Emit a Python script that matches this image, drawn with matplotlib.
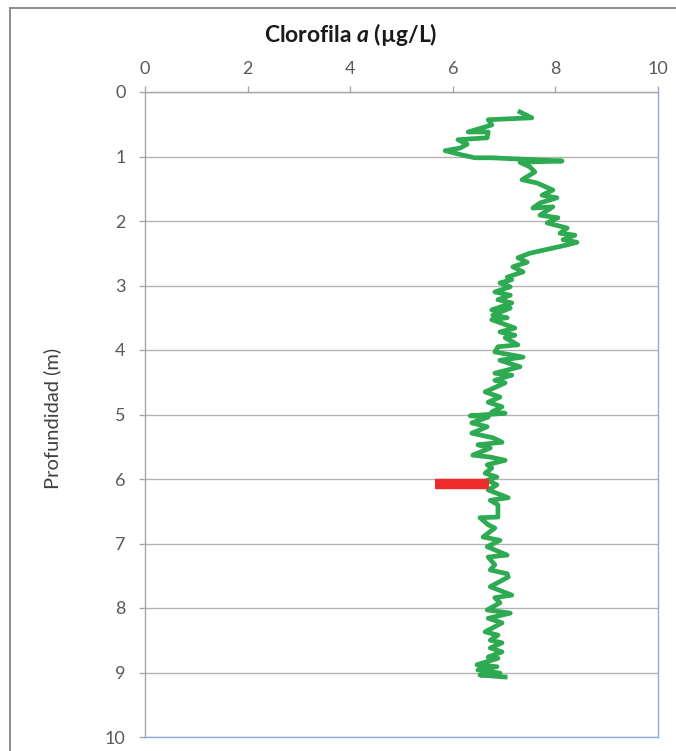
import matplotlib
matplotlib.use("Agg")
import matplotlib.pyplot as plt
from matplotlib.lines import Line2D

plt.rcParams['font.family'] = ['Lato', 'DejaVu Sans']
plt.rcParams['mathtext.fontset'] = 'custom'
plt.rcParams['mathtext.it'] = 'Lato:italic:bold'
plt.rcParams['mathtext.rm'] = 'Lato:bold'

# ---- data ----
depth = [0.31, 0.40, 0.43, 0.51, 0.62, 0.62, 0.71, 0.74, 0.81, 0.87, 0.91, 0.98,
         1.02, 1.02, 1.07, 1.09, 1.16, 1.24, 1.36, 1.41, 1.52, 1.60, 1.64, 1.72,
         1.80, 1.78, 1.91, 1.95, 2.03, 2.11, 2.19, 2.22, 2.29, 2.33, 2.37, 2.43,
         2.50, 2.57, 2.64, 2.71, 2.79, 2.87, 2.91, 2.96, 3.02, 3.10, 3.15, 3.22,
         3.27, 3.38, 3.35, 3.46, 3.50, 3.53, 3.66, 3.72, 3.77, 3.81, 3.92, 3.95,
         4.03, 4.11, 4.16, 4.26, 4.36, 4.39, 4.47, 4.51, 4.65, 4.73, 4.81, 4.88,
         4.96, 4.98, 5.02, 5.04, 5.13, 5.19, 5.29, 5.36, 5.43, 5.47, 5.52, 5.63,
         5.66, 5.71, 5.78, 5.83, 5.91, 5.97, 6.02, 6.09, 6.17, 6.29, 6.33, 6.40,
         6.59, 6.60, 6.71, 6.76, 6.90, 6.95, 7.05, 7.18, 7.21, 7.33, 7.41, 7.47,
         7.52, 7.67, 7.80, 7.84, 7.92, 8.03, 8.08, 8.16, 8.23, 8.37, 8.42, 8.50,
         8.54, 8.62, 8.68, 8.76, 8.78, 8.88, 8.91, 8.96, 9.01, 9.04, 9.07]
chl = [7.31, 7.54, 6.69, 6.76, 6.30, 6.69, 6.67, 6.10, 6.28, 6.14, 5.85, 6.20,
       6.43, 6.76, 8.13, 7.31, 7.50, 7.60, 7.35, 7.64, 7.95, 7.74, 8.03, 7.70,
       7.56, 7.95, 7.70, 8.05, 7.84, 8.23, 8.09, 8.38, 8.15, 8.42, 8.23, 7.89,
       7.50, 7.27, 7.45, 7.17, 7.37, 7.06, 7.15, 6.92, 7.12, 6.82, 7.12, 6.88,
       7.15, 6.76, 7.12, 6.78, 7.06, 6.76, 7.21, 6.92, 7.21, 7.02, 7.27, 6.88,
       6.82, 7.37, 6.92, 7.31, 6.82, 7.15, 6.82, 7.02, 6.63, 6.92, 6.69, 6.96,
       6.76, 7.02, 6.34, 6.69, 6.37, 6.67, 6.37, 6.78, 6.96, 6.49, 6.73, 6.39,
       6.73, 7.02, 6.67, 6.76, 6.63, 6.86, 6.67, 6.86, 6.69, 7.08, 6.73, 6.88,
       6.88, 6.53, 6.69, 6.82, 6.59, 6.92, 6.67, 7.06, 6.69, 6.82, 6.73, 7.06,
       7.08, 6.73, 7.15, 6.82, 6.92, 6.67, 7.12, 6.69, 6.96, 6.63, 6.88, 6.73,
       6.96, 6.73, 6.96, 6.69, 6.88, 6.47, 6.86, 6.49, 6.92, 6.53, 7.02]
red_x = [5.65, 6.70]
red_depth = [6.08, 6.08]
x_ticks = [0, 2, 4, 6, 8, 10]
y_ticks = [0, 1, 2, 3, 4, 5, 6, 7, 8, 9, 10]

W, H = 676, 751
fig = plt.figure(figsize=(W / 100, H / 100), dpi=100)
fig.patch.set_facecolor('white')

# outer chart frame
frame_col = '#8c8c8c'
fig.add_artist(Line2D([10 / W, 10 / W], [0, 1 - 8 / H], transform=fig.transFigure,
                      color=frame_col, lw=1.4))
fig.add_artist(Line2D([10 / W, 1], [1 - 8 / H, 1 - 8 / H], transform=fig.transFigure,
                      color=frame_col, lw=1.4))

left, right, top, bottom = 145, 658, 92, 737
ax = fig.add_axes([left / W, 1 - bottom / H, (right - left) / W, (bottom - top) / H])

ax.plot(chl, depth, color='#2eaa52', lw=3.4, solid_joinstyle='round', zorder=3)
ax.plot(red_x, red_depth, color='#ee2b2b', lw=7.5, solid_capstyle='butt', zorder=4)

ax.set_xlim(0, 10)
ax.set_ylim(10, 0)
ax.set_xticks(x_ticks)
ax.set_yticks(y_ticks)
ax.xaxis.tick_top()
ax.yaxis.grid(True, color='#b3b3b3', lw=1.0)
ax.set_axisbelow(True)

grey = '#a6a6a6'
ax.spines['top'].set_color(grey)
ax.spines['left'].set_color(grey)
ax.spines['right'].set_color('#8cb0dc')
ax.spines['bottom'].set_color('#8cb0dc')
for s in ax.spines.values():
    s.set_linewidth(1.0)

ax.tick_params(axis='x', which='both', top=True, bottom=False, direction='out',
               length=4, width=1, color=grey, labelsize=13, labelcolor='#595959', pad=7)
ax.tick_params(axis='y', direction='out', length=4, width=1, color=grey,
               labelsize=13, labelcolor='#595959', pad=10)

fig.text(351 / W, 1 - 34 / H, r'Clorofila $\mathit{a}$ (µg/L)', ha='center', va='center',
         fontsize=16.5, fontweight='bold', color='#1a1a1a')
fig.text(52 / W, 1 - 418 / H, 'Profundidad (m)', rotation=90, ha='center', va='center',
         fontsize=14.5, color='#404040')

fig.savefig('out.png', dpi=100)
